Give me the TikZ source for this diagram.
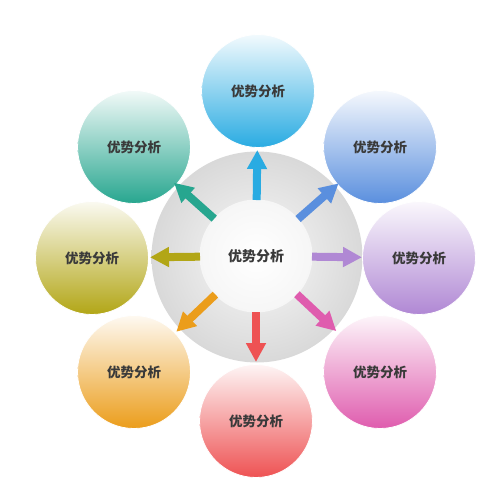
\documentclass[tikz,border=0pt]{standalone}
\usepackage{fontspec}
\newfontfamily\cjk{Noto Sans CJK SC}
\usetikzlibrary{arrows.meta,calc}
\definecolor{txt}{HTML}{3A3A3A}
\definecolor{cA}{HTML}{29ABE2}
\definecolor{cB}{HTML}{5A8FDE}
\definecolor{cC}{HTML}{B088D4}
\definecolor{cD}{HTML}{DF5CAE}
\definecolor{cE}{HTML}{EE5253}
\definecolor{cF}{HTML}{EB9D1B}
\definecolor{cG}{HTML}{B2A616}
\definecolor{cH}{HTML}{27A68F}
\begin{document}
\begin{tikzpicture}[x=1pt,y=-1pt,
  label/.style={font=\cjk\bfseries\fontsize{13.5}{15}\selectfont,text=txt},
  petal/.style={circle,minimum size=113pt,inner sep=0pt,label,
    top color=#1!6!white,bottom color=#1,draw=white,line width=0.8pt},
  spoke/.style={draw=#1,line width=8pt,-{Triangle[width=19pt,length=19pt]}}]
\useasboundingbox (0,0) rectangle (500,501);
\node[circle,minimum size=211pt,inner sep=0pt,inner color=gray!5,outer color=gray!30] (ring) at (257,257) {};
\node[circle,minimum size=113pt,inner sep=0pt,inner color=white,outer color=gray!7,label,font=\cjk\bfseries\fontsize{14}{16}\selectfont] (hub) at (256,256) {优势分析};
\node[petal=cA] (pA) at (258,91) {优势分析};
\node[petal=cB] (pB) at (380,147) {优势分析};
\node[petal=cC] (pC) at (419,258) {优势分析};
\node[petal=cD] (pD) at (380,372) {优势分析};
\node[petal=cE] (pE) at (256,421) {优势分析};
\node[petal=cF] (pF) at (134,372) {优势分析};
\node[petal=cG] (pG) at (92,258) {优势分析};
\node[petal=cH] (pH) at (134,147) {优势分析};
\foreach \n/\c in {pA/cA,pC/cC,pE/cE,pG/cG}
  \draw[spoke=\c] ($(hub.center)!56pt!(\n.center)$) -- ($(hub.center)!106pt!(\n.center)$);
\foreach \n/\c in {pB/cB,pD/cD,pF/cF,pH/cH}
  \draw[spoke=\c] ($(hub.center)!56pt!(\n.center)$) -- ($(hub.center)!110pt!(\n.center)$);
\end{tikzpicture}
\end{document}
